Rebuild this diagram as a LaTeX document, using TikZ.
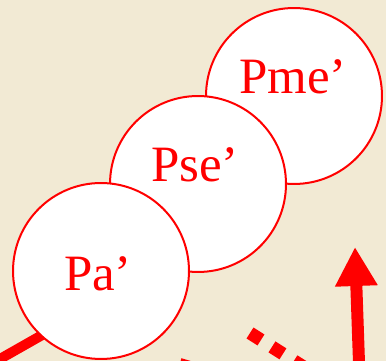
\documentclass[tikz,border=0pt]{standalone}
\usepackage{fontspec}
\setmainfont{Liberation Serif}
\usetikzlibrary{arrows.meta,calc}
\definecolor{paper}{HTML}{F2EAD4}
\definecolor{linered}{HTML}{FF0000}
\pgfdeclarelayer{bg}
\pgfsetlayers{bg,main}

\begin{document}
\begin{tikzpicture}[x=0.02cm, y=-0.02cm, >=Stealth,
  bubble/.style={circle, draw=linered, fill=white, line width=1.14pt, minimum size=3.52cm, inner sep=0pt},
  tag/.style={text=linered, font=\fontsize{29}{35}\selectfont, inner sep=0pt},
  fatline/.style={linered, line width=0.2cm}]
  \useasboundingbox (0,0) rectangle (386,361);
  \clip (0,0) rectangle (386,361);
  \node[bubble] (pme) at (294,96) {};
  \node[bubble] (pse) at (198,184) {};
  \node[bubble] (pa) at (101,271) {};
  \node[tag] (pmetag) at ([shift={(-1,-19)}]pme.center) {Pme’};
  \node[tag] (psetag) at ([shift={(-3,-19)}]pse.center) {Pse’};
  \node[tag] (patag) at ([shift={(-3,3)}]pa.center) {Pa’};
  \coordinate (lfoot) at (-30,376);
  \coordinate (dstart) at (250,333);
  \coordinate (dend) at (340,390);
  \coordinate (bstart) at (180,363);
  \coordinate (bend) at (240,381);
  \coordinate (afoot) at (361,420);
  \coordinate (atip) at (355,247);
  \begin{pgfonlayer}{bg}
    \fill[paper] (0,0) rectangle (386,361);
    \draw[fatline] (lfoot) -- ($(lfoot)!1.15!(pa.227)$);
  \end{pgfonlayer}
  \draw[linered, line width=0.26cm, dash pattern=on 0.26cm off 0.26cm] (dstart) -- (dend);
  \draw[fatline] (bstart) -- (bend);
  \draw[linered, line width=0.24cm, -{Triangle[length=0.78cm, width=0.8cm]}] (afoot) -- (atip);
\end{tikzpicture}
\end{document}
